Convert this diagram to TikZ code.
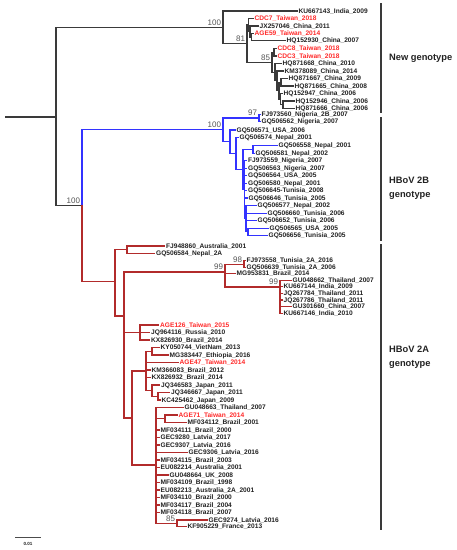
\documentclass[tikz,border=0pt]{standalone}
\usepackage{fontspec}
\setmainfont{Liberation Sans}
\definecolor{lblk}{HTML}{3A3A3A}
\definecolor{lblue}{HTML}{3333FF}
\definecolor{lred}{HTML}{B22B2B}
\definecolor{tred}{HTML}{FF2A2A}
\definecolor{ttxt}{HTML}{222222}
\definecolor{tboot}{HTML}{555555}
\tikzset{
  leaf/.style={anchor=west, inner sep=1.5pt, font=\bfseries\fontsize{6.6}{7}\selectfont, text=ttxt, text height=4.8pt, text depth=0.6pt},
  tw/.style={leaf, text=tred},
  boot/.style={anchor=south east, inner sep=0.8pt, font=\fontsize{8}{9}\selectfont, text=tboot},
  grp/.style={anchor=west, inner sep=0pt, align=left, font=\bfseries\fontsize{9.3}{14}\selectfont, text=ttxt},
  edge/.style={line width=1.1pt, line cap=rect},
  bar/.style={line width=1.3pt, draw=lblk},
}
\begin{document}
\begin{tikzpicture}[x=1pt,y=-1pt]
\useasboundingbox (0,0) rectangle (457,550);
\fill[white] (0,0) rectangle (457,550);

% ---------------- coordinates: backbone & new genotype
\coordinate (R) at (6,117);
\coordinate (T) at (56,117);
\coordinate (N0) at (223,27.3);
\coordinate (H) at (82,205.7);
\coordinate (N81) at (247,43.5);
\coordinate (nA) at (248.5,24.9);
\coordinate (nB) at (250,31.5);
\coordinate (nC) at (251.5,37);
\coordinate (nD) at (272,62.1);
\coordinate (nDc) at (274,52.2);
\coordinate (nE) at (275,72.1);
\coordinate (nF) at (277,80.9);
\coordinate (nG) at (279,90.7);
\coordinate (nH) at (281,82.4);
\coordinate (nI) at (280.5,99.1);
\coordinate (nJ) at (283,104.7);

\node[leaf] (l1) at (297,11) {KU667143\_India\_2009};
\node[tw] (l2) at (253,18.3) {CDC7\_Taiwan\_2018};
\node[leaf] (l3) at (258,26) {JX257046\_China\_2011};
\node[tw] (l4) at (253,33.3) {AGE59\_Taiwan\_2014};
\node[leaf] (l5) at (285,40.7) {HQ152930\_China\_2007};
\node[tw] (l6) at (276,48.3) {CDC8\_Taiwan\_2018};
\node[tw] (l7) at (276,56) {CDC3\_Taiwan\_2018};
\node[leaf] (l8) at (281,63.3) {HQ871668\_China\_2010};
\node[leaf] (l9) at (283,71) {KM378089\_China\_2014};
\node[leaf] (l10) at (287,78.7) {HQ871667\_China\_2009};
\node[leaf] (l11) at (293,86) {HQ871665\_China\_2008};
\node[leaf] (l12) at (282,93.5) {HQ152947\_China\_2006};
\node[leaf] (l13) at (294,101) {HQ152946\_China\_2006};
\node[leaf] (l14) at (294,108.3) {HQ871666\_China\_2006};

\begin{scope}[edge, draw=lblk]
\draw (R) -- (T);
\draw (T) |- (N0); \draw (T) |- (H);
\draw (N0) |- (l1.west); \draw (N0) |- (N81);
\draw (N81) |- (nA); \draw (N81) |- (nD);
\draw (nA) |- (l2.west); \draw (nA) |- (nB);
\draw (nB) |- (l3.west); \draw (nB) |- (nC);
\draw (nC) |- (l4.west); \draw (nC) |- (l5.west);
\draw (nD) |- (nDc); \draw (nD) |- (nE);
\draw (nDc) |- (l6.west); \draw (nDc) |- (l7.west);
\draw (nE) |- (l8.west); \draw (nE) |- (nF);
\draw (nF) |- (l9.west); \draw (nF) |- (nG);
\draw (nG) |- (nH); \draw (nG) |- (nI);
\draw (nH) |- (l10.west); \draw (nH) |- (l11.west);
\draw (nI) |- (l12.west); \draw (nI) |- (nJ);
\draw (nJ) |- (l13.west); \draw (nJ) |- (l14.west);
\end{scope}

% ---------------- HBoV 2B (blue)
\coordinate (B0) at (223,129.9);
\coordinate (N97) at (259,118);
\coordinate (B1) at (230,141.8);
\coordinate (B2) at (236,153.6);
\coordinate (B3) at (243,169.5);
\coordinate (B4) at (253,149.5);
\coordinate (B7) at (244.5,189.6);
\coordinate (B5) at (246,218.5);
\coordinate (B6) at (248,231.8);

\node[leaf] (l15) at (260,114.3) {FJ973560\_Nigeria\_2B\_2007};
\node[leaf] (l16) at (260,121.7) {GQ506562\_Nigeria\_2007};
\node[leaf] (l17) at (235,130) {GQ506571\_USA\_2006};
\node[leaf] (l18) at (238,137.7) {GQ506574\_Nepal\_2001};
\node[leaf] (l19) at (277,145.7) {GQ506558\_Nepal\_2001};
\node[leaf] (l20) at (254,153.3) {GQ506581\_Nepal\_2002};
\node[leaf] (l21) at (246.5,160.7) {FJ973559\_Nigeria\_2007};
\node[leaf] (l22) at (246.5,168.3) {GQ506563\_Nigeria\_2007};
\node[leaf] (l23) at (246.5,175.7) {GQ506564\_USA\_2005};
\node[leaf] (l24) at (246.5,183.3) {GQ506580\_Nepal\_2001};
\node[leaf] (l25) at (246.5,190.7) {GQ506645-Tunisia\_2008};
\node[leaf] (l26) at (247,198) {GQ506646\_Tunisia\_2005};
\node[leaf] (l27) at (256,205.3) {GQ506577\_Nepal\_2002};
\node[leaf] (l28) at (266,213.3) {GQ506660\_Tunisia\_2006};
\node[leaf] (l29) at (256,220.7) {GQ506652\_Tunisia\_2006};
\node[leaf] (l30) at (268,228.3) {GQ506565\_USA\_2005};
\node[leaf] (l31) at (267,235.3) {GQ506656\_Tunisia\_2005};

\begin{scope}[edge, draw=lblue]
\draw (H) |- (B0);
\draw (B0) |- (N97); \draw (B0) |- (B1);
\draw (N97) |- (l15.west); \draw (N97) |- (l16.west);
\draw (B1) |- (l17.west); \draw (B1) |- (B2);
\draw (B2) |- (l18.west); \draw (B2) |- (B3);
\draw (B3) |- (B4); \draw (B3) |- (B7);
\draw (B4) |- (l19.west); \draw (B4) |- (l20.west);
\foreach \k in {21,...,26} {\draw (B7) |- (l\k.west);}
\draw (B7) |- (B5);
\draw (B5) |- (l27.west); \draw (B5) |- (l28.west); \draw (B5) |- (l29.west);
\draw (B5) |- (B6);
\draw (B6) |- (l30.west); \draw (B6) |- (l31.west);
\end{scope}

% ---------------- HBoV 2A (red)
\coordinate (R0) at (115,281.7);
\coordinate (R1) at (127,249.65);
\coordinate (R2) at (124,316);
\coordinate (Q99) at (225,272);
\coordinate (N98) at (244,264.1);
\coordinate (Q99b) at (280,287);
\coordinate (R7) at (140,332.5);
\coordinate (X) at (132,418);
\coordinate (R10) at (146,371);
\coordinate (R12) at (152,351.4);
\coordinate (R13) at (152,390.6);
\coordinate (R14) at (158,396.2);
\coordinate (R11) at (156,465);
\coordinate (R15) at (165,418.8);
\coordinate (N85) at (177,523.3);

\node[leaf] (l32) at (164.5,246) {FJ948860\_Australia\_2001};
\node[leaf] (l33) at (154.5,253.3) {GQ506584\_Nepal\_2A};
\node[leaf] (l34) at (245,260.7) {FJ973558\_Tunisia\_2A\_2016};
\node[leaf] (l35) at (245,267.5) {GQ506639\_Tunisia\_2A\_2006};
\node[leaf] (l36) at (235,273.8) {MG953831\_Brazil\_2014};
\node[leaf] (l37) at (291,280.3) {GU048662\_Thailand\_2007};
\node[leaf] (l38) at (282,286.8) {KU667144\_India\_2009};
\node[leaf] (l39) at (282,293.3) {JQ267784\_Thailand\_2011};
\node[leaf] (l40) at (282,300) {JQ267786\_Thailand\_2011};
\node[leaf] (l41) at (291,306.7) {GU301660\_China\_2007};
\node[leaf] (l42) at (282,313.3) {KU667146\_India\_2010};
\node[tw] (l43) at (158.5,325) {AGE126\_Taiwan\_2015};
\node[leaf] (l44) at (149.5,332.3) {JQ964116\_Russia\_2010};
\node[leaf] (l45) at (149.5,340) {KX826930\_Brazil\_2014};
\node[leaf] (l46) at (159,347.7) {KY050744\_VietNam\_2013};
\node[leaf] (l47) at (168,355) {MG383447\_Ethiopia\_2016};
\node[tw] (l48) at (178,362.3) {AGE47\_Taiwan\_2014};
\node[leaf] (l49) at (150,370) {KM366083\_Brazil\_2012};
\node[leaf] (l50) at (150,377.3) {KX826932\_Brazil\_2014};
\node[leaf] (l51) at (159.5,385) {JQ346583\_Japan\_2011};
\node[leaf] (l52) at (169.5,392.3) {JQ346667\_Japan\_2011};
\node[leaf] (l53) at (160,400) {KC425462\_Japan\_2009};
\node[leaf] (l54) at (183,407.3) {GU048663\_Thailand\_2007};
\node[tw] (l55) at (177,415) {AGE71\_Taiwan\_2014};
\node[leaf] (l56) at (186,422.7) {MF034112\_Brazil\_2001};
\node[leaf] (l57) at (159,430) {MF034111\_Brazil\_2000};
\node[leaf] (l58) at (159,437.3) {GEC9280\_Latvia\_2017};
\node[leaf] (l59) at (159,445) {GEC9307\_Latvia\_2016};
\node[leaf] (l60) at (187,452.3) {GEC9306\_Latvia\_2016};
\node[leaf] (l61) at (159,460) {MF034115\_Brazil\_2003};
\node[leaf] (l62) at (159,467.3) {EU082214\_Australia\_2001};
\node[leaf] (l63) at (168,475) {GU048664\_UK\_2008};
\node[leaf] (l64) at (159,482.7) {MF034109\_Brazil\_1998};
\node[leaf] (l65) at (159,490) {EU082213\_Australia\_2A\_2001};
\node[leaf] (l66) at (159,497.3) {MF034110\_Brazil\_2000};
\node[leaf] (l67) at (159,505) {MF034117\_Brazil\_2004};
\node[leaf] (l68) at (159,512.3) {MF034118\_Brazil\_2007};
\node[leaf] (l69) at (207,520) {GEC9274\_Latvia\_2016};
\node[leaf] (l70) at (186,526.7) {KF905229\_France\_2013};

\begin{scope}[edge, draw=lred]
\draw (H) |- (R0);
\draw (R0) |- (R1); \draw (R0) |- (R2);
\draw (R1) |- (l32.west); \draw (R1) |- (l33.west);
\draw (R2) |- (Q99); \draw (R2) |- (R7); \draw (R2) |- (X);
\draw (Q99) |- (N98); \draw (Q99) |- (l36.west); \draw (Q99) |- (Q99b);
\draw (N98) |- (l34.west); \draw (N98) |- (l35.west);
\foreach \k in {37,...,42} {\draw (Q99b) |- (l\k.west);}
\draw (R7) |- (l43.west); \draw (R7) |- (l44.west); \draw (R7) |- (l45.west);
\draw (X) |- (R10); \draw (X) |- (R11);
\draw (R10) |- (R12); \draw (R10) |- (l48.west); \draw (R10) |- (l49.west);
\draw (R10) |- (l50.west); \draw (R10) |- (R13);
\draw (R12) |- (l46.west); \draw (R12) |- (l47.west);
\draw (R13) |- (l51.west); \draw (R13) |- (R14);
\draw (R14) |- (l52.west); \draw (R14) |- (l53.west);
\draw (R11) |- (l54.west); \draw (R11) |- (R15);
\draw (R15) |- (l55.west); \draw (R15) |- (l56.west);
\foreach \k in {57,...,68} {\draw (R11) |- (l\k.west);}
\draw (R11) |- (N85);
\draw (N85) |- (l69.west); \draw (N85) |- (l70.west);
\end{scope}

% ---------------- bootstrap values
\node[boot] (b1) at ([xshift=-1pt,yshift=1pt]N0) {100};
\node[boot] (b2) at ([xshift=-1pt,yshift=1pt]N81) {81};
\node[boot] (b3) at ([xshift=-1pt,yshift=1pt]nD) {85};
\node[boot] (b4) at ([xshift=-1pt,yshift=1pt]H) {100};
\node[boot] (b5) at ([xshift=-1pt,yshift=1pt]B0) {100};
\node[boot] (b6) at ([xshift=-1pt,yshift=1pt]N97) {97};
\node[boot] (b7) at ([xshift=-1pt,yshift=1pt]Q99) {99};
\node[boot] (b8) at ([xshift=-1pt,yshift=1pt]N98) {98};
\node[boot] (b9) at ([xshift=-1pt,yshift=1pt]Q99b) {99};
\node[boot] (b10) at ([xshift=-1pt,yshift=1pt]N85) {85};

% ---------------- genotype bars
\coordinate (g1a) at (381,3); \coordinate (g1b) at (381,113);
\coordinate (g2a) at (381,117); \coordinate (g2b) at (381,241);
\coordinate (g3a) at (381,244); \coordinate (g3b) at (381,530);
\draw[bar] (g1a) -- (g1b);
\draw[bar] (g2a) -- (g2b);
\draw[bar] (g3a) -- (g3b);
\node[grp] (t1) at (389,58) {New genotype};
\node[grp] (t2) at (389,188) {HBoV 2B\\genotype};
\node[grp] (t3) at (389,357) {HBoV 2A\\genotype};

% ---------------- scale bar
\coordinate (s1) at (15,537); \coordinate (s2) at (41,537);
\draw[line width=0.9pt, draw=black!70] (s1) -- (s2);
\node[font=\bfseries\fontsize{4.5}{5}\selectfont, text=ttxt, inner sep=0pt] (sl) at (28,544) {0.01};
\end{tikzpicture}
\end{document}
